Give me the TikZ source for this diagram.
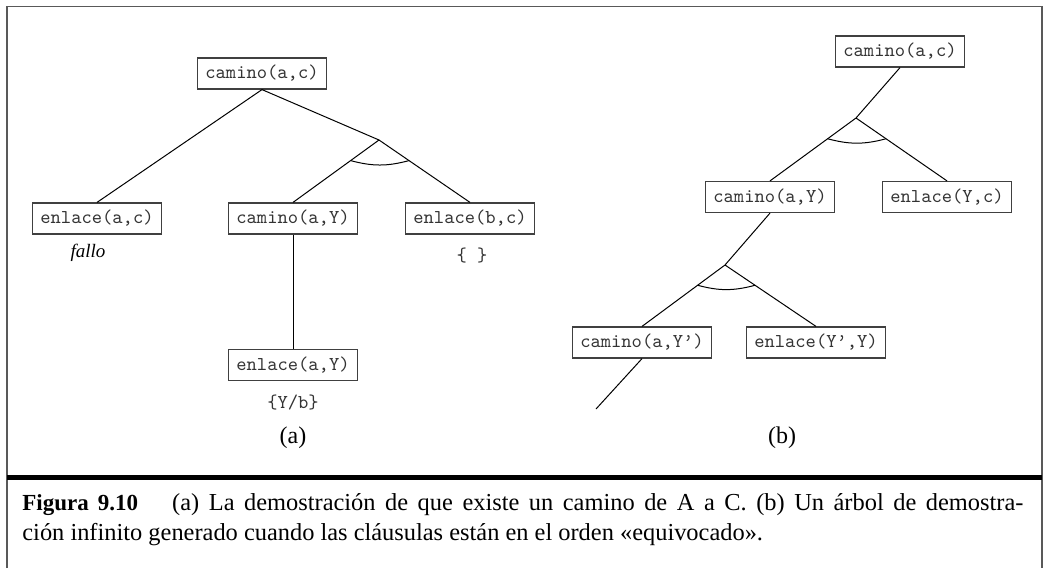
\documentclass[tikz,border=0pt]{standalone}
\usepackage{fontspec}
\setmainfont{Liberation Serif}
\usetikzlibrary{calc}
\tikzset{
  goal/.style={draw=black!75, line width=0.6pt, font=\fontsize{9.8}{11}\selectfont\ttfamily, text=black!80, inner xsep=4pt, inner ysep=0pt, minimum height=15.5pt},
  edge/.style={line width=0.5pt},
  andarc/.style={line width=0.5pt},
  subst/.style={font=\fontsize{9.8}{11}\selectfont\ttfamily, text=black!80},
  tag/.style={font=\fontsize{12}{14}\selectfont},
  frame/.style={draw=black!65, line width=0.8pt},
  caption/.style={anchor=base west, inner sep=0pt, font=\fontsize{12.2}{15}\selectfont},
}

\begin{document}
\begin{tikzpicture}[x=0.5pt, y=-0.5pt]
  \useasboundingbox (0,0) rectangle (1049,568);
  % frame and rule above the caption
  \draw[frame] (7,568) -- (7,6.5) -- (1042,6.5) -- (1042,568);
  \draw[line width=2.5pt] (7,477.5) -- (1042,477.5);

  % (a) proof tree
  \node[goal] (ra) at (262,73.5) {camino(a,c)};
  \node[goal] (eac) at (97,218.5) {enlace(a,c)};
  \node[goal] (cay) at (293,218.5) {camino(a,Y)};
  \node[goal] (ebc) at (470,218.5) {enlace(b,c)};
  \node[goal] (eay) at (293,365) {enlace(a,Y)};
  \coordinate (ja) at (379,140);
  \draw[edge] (ra.south) -- (eac.north);
  \draw[edge] (ra.south) -- (ja) -- (ebc.north);
  \draw[edge] (ja) -- (cay.north);
  \draw[andarc] ($(ja)!0.33!(cay.north)$) to[bend right=15] ($(ja)!0.33!(ebc.north)$);
  \draw[edge] (cay.south) -- (eay.north);
  \node[font=\fontsize{9.5}{11}\selectfont\itshape] (fallo) at (88,253) {fallo};
  \node[subst] (sbc) at (472,256) {\{ \}};
  \node[subst] (say) at (293,403) {\{Y/b\}};
  \node[tag] (taga) at (293,438) {(a)};

  % (b) infinite tree
  \node[goal] (rb) at (900,51.5) {camino(a,c)};
  \node[goal] (cby) at (770,197) {camino(a,Y)};
  \node[goal] (eyc) at (947,197) {enlace(Y,c)};
  \node[goal] (cbyp) at (642,342.5) {camino(a,Y’)};
  \node[goal] (eypy) at (816,342.5) {enlace(Y’,Y)};
  \coordinate (jb1) at (856,118);
  \coordinate (jb2) at (725,265);
  \coordinate (more) at (596,409);
  \draw[edge] (rb.south) -- (jb1) -- (cby.north);
  \draw[edge] (jb1) -- (eyc.north);
  \draw[andarc] ($(jb1)!0.33!(cby.north)$) to[bend right=15] ($(jb1)!0.33!(eyc.north)$);
  \draw[edge] (cby.south) -- (jb2) -- (cbyp.north);
  \draw[edge] (jb2) -- (eypy.north);
  \draw[andarc] ($(jb2)!0.33!(cbyp.north)$) to[bend right=15] ($(jb2)!0.33!(eypy.north)$);
  \draw[edge] (cbyp.south) -- (more);
  \node[tag] (tagb) at (782,438) {(b)};

  % caption
  \node[caption] (cap1) at (22,510) {\makebox[500.5pt][s]{{\fontsize{11.5}{15}\selectfont\bfseries Figura 9.10}\hspace{1.4em}(a) La demostración de que existe un camino de A a C. (b) Un árbol de demostra-}};
  \node[caption] (cap2) at (22,540) {ción infinito generado cuando las cláusulas están en el orden «equivocado».};
\end{tikzpicture}
\end{document}
